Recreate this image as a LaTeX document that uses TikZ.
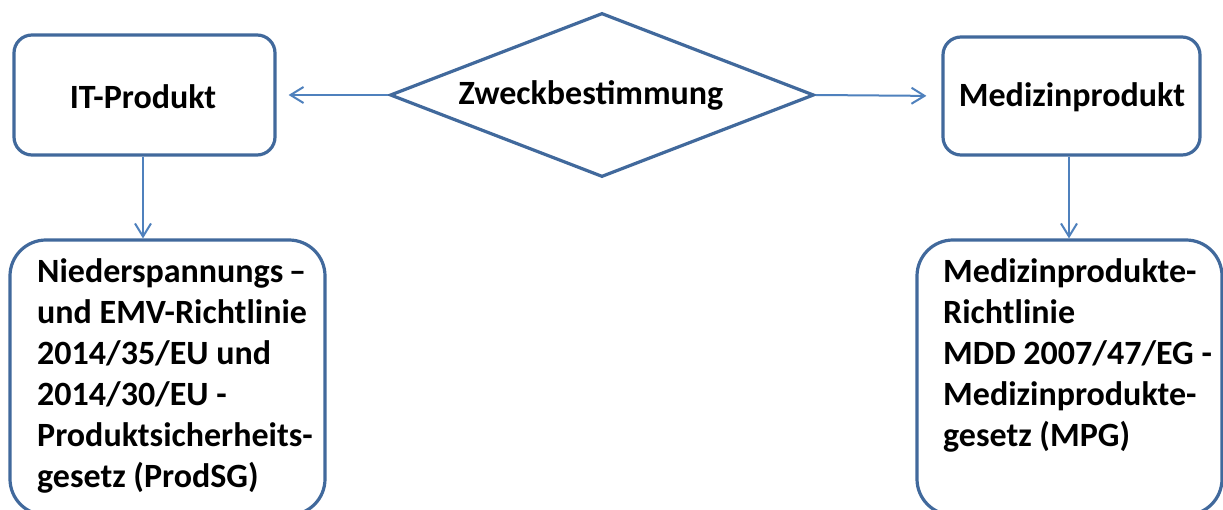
\documentclass[tikz,border=0pt]{standalone}
\usepackage{fontspec}
\setmainfont{Carlito}
\usetikzlibrary{shapes.geometric,arrows.meta}
\definecolor{boxline}{HTML}{41699C}
\definecolor{arrline}{HTML}{4F81BD}
\tikzset{
  rbox/.style={draw=boxline, line width=3.2pt, rounded corners=#1, fill=white, inner sep=0pt},
  rbox/.default=18pt,
  dia/.style={diamond, draw=boxline, line width=3.2pt, minimum width=424pt, minimum height=164pt, inner sep=0pt},
  lbl/.style={font=\fontsize{34}{41}\selectfont\bfseries, inner sep=0pt},
  mtext/.style={lbl, align=left, anchor=north west},
  conn/.style={draw=arrline, line width=2pt, -{Straight Barb[length=13pt,width=16pt,line width=2pt]}}
}
\begin{document}
\begin{tikzpicture}[x=1pt,y=-1pt]
\useasboundingbox (0,0) rectangle (1223,510);
\clip (0,0) rectangle (1223,510);
\fill[white] (0,0) rectangle (1223,510);
% top boxes
\node[rbox, minimum width=261pt, minimum height=120pt] (itp) at (144.5,95) {};
\node[lbl] (itpt) at (143,97) {IT-Produkt};
\node[rbox, minimum width=257pt, minimum height=118pt] (med) at (1071.5,96) {};
\node[lbl] (medt) at (1072,97) {Medizinprodukt};
\node[dia] (zb) at (602,95) {};
\node[lbl] (zbt) at (591,95) {Zweckbestimmung};
% bottom boxes
\node[rbox=36pt, minimum width=315pt, minimum height=275pt] (nsr) at (167.5,377.5) {};
\node[mtext] (nsrt) at (37,258) {Niederspannungs\,–\\und EMV-Richtlinie\\2014/35/EU und\\2014/30/EU -\\Produktsicherheits-\\gesetz (ProdSG)};
\node[rbox=36pt, minimum width=305pt, minimum height=275pt] (mdr) at (1069.5,377.5) {};
\node[mtext] (mdrt) at (943,258) {Medizinprodukte-\\Richtlinie\\MDD 2007/47/EG -\\Medizinprodukte-\\gesetz (MPG)};
% connectors
\draw[conn, shorten >=12pt] (zb.west) -- (itp.east);
\draw[conn, shorten >=15pt] (zb.east) -- (med.west);
\draw[conn] (itp.south -| 143,0) -- (nsr.north -| 143,0);
\draw[conn] (med.south -| 1069,0) -- (mdr.north -| 1069,0);
\end{tikzpicture}
\end{document}
